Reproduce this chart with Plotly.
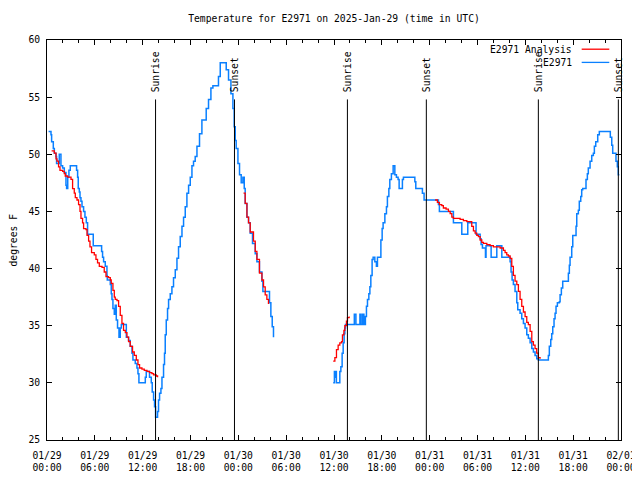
import plotly.graph_objects as go
import pandas as pd

START = "2025-01-29 00:00"

# Observations (E2971), hours since 01/29 00:00 UTC and temperature (F)
obs1_hours = [0.2, 0.5, 0.58, 0.79, 0.92, 1.13, 1.2, 1.54, 1.75, 1.96, 2.17, 2.38, 2.46, 2.6, 2.75, 2.92,
              3.71, 3.84, 3.92, 4.05, 4.14, 4.26, 4.39, 4.59, 4.76, 4.93, 5.09, 5.8, 6.85, 6.97, 7.1, 7.31,
              7.52, 7.56, 7.94, 8.06, 8.15, 8.27, 8.44, 8.56, 8.69, 8.85, 9.03, 9.19, 9.32, 9.95, 10.23,
              10.44, 10.66, 10.78, 11.07, 11.28, 11.41, 11.53, 12.33, 12.45, 12.86, 13.08, 13.2, 13.37,
              13.49, 13.62, 13.87, 13.99, 14.12, 14.29, 14.42, 14.62, 14.74, 14.83, 14.96, 15.12, 15.25,
              15.46, 15.67, 15.87, 16.09, 16.3, 16.5, 16.71, 16.93, 17.13, 17.34, 17.55, 17.76, 17.97,
              18.18, 18.38, 18.59, 18.81, 19.13, 19.43, 19.97, 20.26, 20.56, 20.81, 21.51, 21.73, 22.48,
              22.77, 23.07, 23.32, 23.48, 23.61, 23.73, 23.95, 24.15, 24.36, 24.57, 24.74, 24.86, 25.08,
              25.28, 25.49, 25.78, 26.12, 26.33, 26.65, 26.96, 27.08, 27.91, 28.08, 28.25, 28.41]
obs1_temp = [52.0, 51.7, 51.1, 50.5, 50.1, 49.8, 49.2, 50.0, 49.0, 48.8, 48.4, 47.3, 47.0, 48.0, 48.6, 49.0,
             48.6, 48.0, 47.0, 46.7, 46.2, 45.9, 45.4, 45.0, 44.5, 44.0, 43.0, 42.0, 41.5, 41.0, 40.6, 40.2,
             39.4, 39.0, 38.6, 37.8, 37.3, 36.5, 36.0, 36.8, 35.5, 34.8, 34.0, 34.8, 35.1, 34.0, 33.7,
             33.2, 32.6, 32.0, 31.7, 31.3, 30.8, 30.0, 30.5, 31.0, 30.5, 30.0, 29.2, 28.5,
             27.9, 27.0, 27.5, 28.5, 29.1, 29.5, 30.5, 31.6, 32.6, 34.2, 35.5, 36.5, 37.3,
             37.8, 38.4, 39.2, 39.9, 40.9, 41.9, 42.8, 43.7, 44.5, 45.4, 46.6, 47.3, 48.0,
             49.0, 49.4, 49.8, 50.7, 51.8, 53.0, 54.0, 54.8, 55.8, 56.0, 56.8, 58.0, 57.4,
             56.5, 55.3, 54.0, 52.4, 51.2, 50.5, 49.2, 48.2, 47.5, 48.0, 47.0, 45.7, 44.5,
             44.0, 43.1, 42.2, 41.3, 40.6, 39.7, 38.9, 38.0, 37.0, 35.8, 34.9, 34.0]

obs2_hours = [35.9, 36.05, 36.12, 36.2, 36.3, 36.73, 36.86, 37.02, 37.15, 37.27, 37.36, 37.44, 38.55, 38.75,
              39.25, 39.4, 39.6, 39.75, 39.94, 40.07, 40.2, 40.37, 40.5, 40.62, 40.78, 40.91, 41.12, 41.32,
              41.45, 41.88, 42.04, 42.16, 42.38, 42.58, 42.7, 42.88, 43.0, 43.2, 43.42, 43.63, 43.83,
              44.04, 44.17, 44.58, 44.71, 46.14, 46.26, 47.09, 47.3, 49.1, 49.22, 50.98, 52.03, 52.78,
              53.82, 54.33, 54.45, 54.62, 55.0, 55.07, 55.71, 56.42, 57.05, 58.09, 58.21, 58.34, 58.5,
              58.71, 58.93, 59.05, 59.34, 59.55, 59.76, 59.97, 60.18, 60.38, 60.6, 60.81, 61.01, 61.22,
              61.43, 61.63, 62.89, 63.01, 63.19, 63.31, 63.44, 63.6, 63.73, 63.85, 64.02, 64.27, 64.36,
              64.52, 64.69, 65.4, 65.52, 65.61, 65.82, 65.95, 66.36, 66.45, 66.65, 66.77, 66.95, 67.07,
              67.2, 67.61, 67.78, 67.9, 68.12, 68.33, 68.53, 68.66, 68.83, 69.08, 69.28, 70.66, 70.84,
              70.96, 71.37, 71.54, 71.66, 71.79]
obs2_temp = [30.0, 31.0, 30.5, 31.0, 30.0, 31.0, 31.4, 32.6, 33.5, 34.3, 34.8, 35.1, 36.0, 35.1,
             36.0, 35.1, 36.0, 35.1, 35.8, 36.7, 37.3, 37.8, 38.4, 39.4, 40.8, 41.0, 40.6, 40.2,
             41.0, 42.5, 43.5, 44.0, 44.8, 45.4, 46.3, 47.0, 47.8, 48.3, 49.0, 48.2, 48.0,
             47.8, 47.0, 47.8, 48.0, 47.6, 47.0, 46.6, 46.0, 45.6, 45.0, 44.0, 43.0, 44.0,
             43.0, 42.6, 42.1, 41.8, 41.0, 42.0, 41.0, 42.0, 41.0, 40.6, 39.7, 39.0, 38.6,
             38.0, 37.0, 36.4, 36.1, 35.6, 35.2, 34.8, 34.2, 33.9, 33.5, 33.0, 32.7, 32.4,
             32.1, 32.0, 32.4, 33.2, 33.8, 34.3, 34.9, 35.6, 36.1, 36.7, 37.0, 37.1, 37.7,
             38.3, 38.9, 39.6, 40.3, 41.0, 41.9, 42.9, 43.7, 44.8, 45.1, 45.9, 46.3, 46.9,
             47.0, 47.8, 48.3, 48.8, 49.4, 49.9, 50.1, 50.7, 51.1, 51.7, 52.0, 51.5, 50.8,
             50.1, 49.4, 48.9, 48.2, 48.2]

# Analysis (E2971 Analysis)
ana1_hours = [0.58, 0.92, 1.13, 1.25, 1.45, 1.63, 1.96, 2.17, 2.29, 2.58, 3.01, 3.21, 3.42, 3.55, 3.76, 3.96,
              4.14, 4.26, 4.46, 4.59, 4.89, 5.02, 5.22, 5.39, 5.59, 5.93, 6.14, 6.34, 6.56, 6.9, 7.18, 7.4,
              7.72, 7.94, 8.06, 8.27, 8.44, 8.56, 8.78, 8.98, 9.19, 9.4, 9.6, 9.82, 10.03, 10.23, 10.44,
              10.73, 10.95, 11.2, 11.41, 11.61, 11.91, 12.2, 12.54, 12.86, 13.16, 13.37, 13.7, 13.87]
ana1_temp = [50.3, 50.1, 49.6, 49.4, 48.9, 48.6, 48.5, 48.3, 48.1, 48.0, 47.8, 47.0, 46.6, 46.2, 46.0, 45.6,
             45.0, 44.4, 44.0, 43.5, 43.4, 42.9, 42.4, 41.9, 41.4, 41.2, 40.8, 40.5, 40.2, 40.1, 39.7, 39.3,
             39.2, 39.0, 38.7, 38.1, 37.5, 37.3, 37.2, 36.7, 35.9, 35.2, 34.6, 34.4, 34.0, 33.6, 33.2,
             32.7, 32.4, 32.0, 31.6, 31.3, 31.2, 31.1, 31.0, 30.9, 30.8, 30.7, 30.6, 30.5]
ana2_hours = [24.65, 24.86, 25.08, 25.28, 25.49, 25.9, 26.12, 26.33, 26.65, 26.96, 27.16, 27.37, 27.58, 27.78]
ana2_temp = [46.6, 45.7, 44.5, 44.0, 43.2, 42.4, 41.5, 40.8, 39.6, 39.0, 38.4, 37.7, 37.3, 36.9]
ana3_hours = [35.9, 36.11, 36.31, 36.52, 36.73, 36.94, 37.06, 37.24, 37.36, 37.56, 37.69, 37.9]
ana3_temp = [31.9, 32.2, 32.9, 33.3, 33.5, 33.6, 34.2, 34.6, 35.0, 35.4, 35.7, 35.8]
ana4_hours = [48.68, 48.97, 49.22, 49.52, 49.72, 50.06, 50.35, 50.57, 50.78, 50.98, 51.4, 51.82, 52.23,
              52.66, 52.98, 53.28, 53.49, 53.7, 53.91, 54.11, 54.33, 54.54, 54.74, 55.17, 55.58, 55.99,
              56.42, 56.84, 57.25, 57.46, 57.67, 57.87, 58.09, 58.3, 58.5, 58.71, 58.93, 59.13, 59.34,
              59.55, 59.76, 59.97, 60.18, 60.38, 60.6, 60.81, 61.01, 61.22, 61.43, 61.63, 61.85]
ana4_temp = [46.0, 45.8, 45.6, 45.5, 45.3, 45.2, 45.0, 44.8, 44.5, 44.4, 44.4, 44.3, 44.2,
             44.1, 44.1, 43.7, 43.3, 43.1, 42.9, 42.8, 42.5, 42.3, 42.2, 42.1, 42.0, 41.9,
             41.9, 41.8, 41.6, 41.4, 41.2, 41.1, 40.9, 40.2, 39.4, 38.9, 38.6, 38.0, 37.3,
             36.7, 36.2, 35.8, 35.3, 35.1, 34.5, 33.6, 33.3, 33.0, 32.6, 32.2, 32.1]

sunrise_times = ["2025-01-29 13:37", "2025-01-30 13:41", "2025-01-31 13:38"]
sunset_times = ["2025-01-29 23:31", "2025-01-30 23:35", "2025-01-31 23:40"]

series_names = ["E2971 Analysis", "E2971"]
BLUE = "#0a80ff"
RED = "#ff0000"
FONT = "DejaVu Sans Mono"
FS = 9.7

# the page has an 8px body margin, so the figure is 632x472 inside the 640x480 window
W, H = 632, 472

t0 = pd.Timestamp(START)


def to_time(hours):
    return [t0 + pd.Timedelta(hours=h) for h in hours]


fig = go.Figure()

for hrs, tmp in [(obs1_hours, obs1_temp), (obs2_hours, obs2_temp)]:
    fig.add_trace(go.Scatter(x=to_time(hrs), y=tmp, mode="lines", name=series_names[1],
                             line=dict(color=BLUE, width=1.5, shape="hv"), showlegend=False,
                             hoverinfo="skip"))
for hrs, tmp in [(ana1_hours, ana1_temp), (ana2_hours, ana2_temp), (ana3_hours, ana3_temp),
                 (ana4_hours, ana4_temp)]:
    fig.add_trace(go.Scatter(x=to_time(hrs), y=tmp, mode="lines", name=series_names[0],
                             line=dict(color=RED, width=1.3, shape="hv"), showlegend=False,
                             hoverinfo="skip"))

for label, times in [("Sunrise", sunrise_times), ("Sunset", sunset_times)]:
    for tm in times:
        fig.add_shape(type="line", xref="x", yref="y", x0=tm, x1=tm, y0=25, y1=54.8,
                      line=dict(color="black", width=1))
        fig.add_annotation(x=tm, xref="x", y=55.25, yref="y", text=label, textangle=-90,
                           xanchor="center", yanchor="bottom", showarrow=False,
                           font=dict(family=FONT, size=FS, color="black"))

# gnuplot-style key (text right, sample line to the right)
key_rows = [(series_names[0], RED, 0.977), (series_names[1], BLUE, 0.944)]
for name, col, yy in key_rows:
    fig.add_annotation(x=0.918, xref="paper", y=yy, yref="paper", text=name, showarrow=False,
                       xanchor="right", yanchor="middle", font=dict(family=FONT, size=FS, color="black"))
    fig.add_shape(type="line", xref="paper", yref="paper", x0=0.9315, x1=0.9796, y0=yy, y1=yy,
                  line=dict(color=col, width=1.3))

fig.add_annotation(x=-0.0584, xref="paper", y=0.5, yref="paper", text="degrees F", textangle=-90,
                   showarrow=False, xanchor="center", yanchor="middle",
                   font=dict(family=FONT, size=FS, color="black"))

fig.update_layout(
    width=W, height=H,
    margin=dict(l=39, r=19, t=32, b=40, autoexpand=False),
    paper_bgcolor="white", plot_bgcolor="white",
    title=dict(text="Temperature for E2971 on 2025-Jan-29 (time in UTC)", x=0.5, xref="paper",
               y=1 - 11 / H, yref="container", xanchor="center", yanchor="middle",
               font=dict(family=FONT, size=FS, color="black")),
    font=dict(family=FONT, size=FS, color="black"),
    showlegend=False,
)
fig.update_xaxes(
    type="date", range=["2025-01-29 00:00", "2025-02-01 00:00"], automargin=False,
    dtick=6 * 3600 * 1000, tick0="2025-01-29 00:00", tickformat="%m/%d<br>%H:%M",
    ticks="inside", ticklen=5, tickcolor="black", tickwidth=1, ticklabelstandoff=6,
    minor=dict(dtick=2 * 3600 * 1000, ticks="inside", ticklen=3, tickcolor="black"),
    showline=True, linecolor="black", linewidth=1, mirror="ticks",
    showgrid=False, zeroline=False, tickfont=dict(family=FONT, size=FS, color="black"),
)
fig.update_yaxes(
    range=[25, 60], dtick=5, tick0=25, automargin=False,
    ticks="inside", ticklen=5, tickcolor="black", tickwidth=1, ticklabelstandoff=4,
    showline=True, linecolor="black", linewidth=1, mirror="ticks",
    showgrid=False, zeroline=False, tickfont=dict(family=FONT, size=FS, color="black"),
)

fig.write_html("out.html")
